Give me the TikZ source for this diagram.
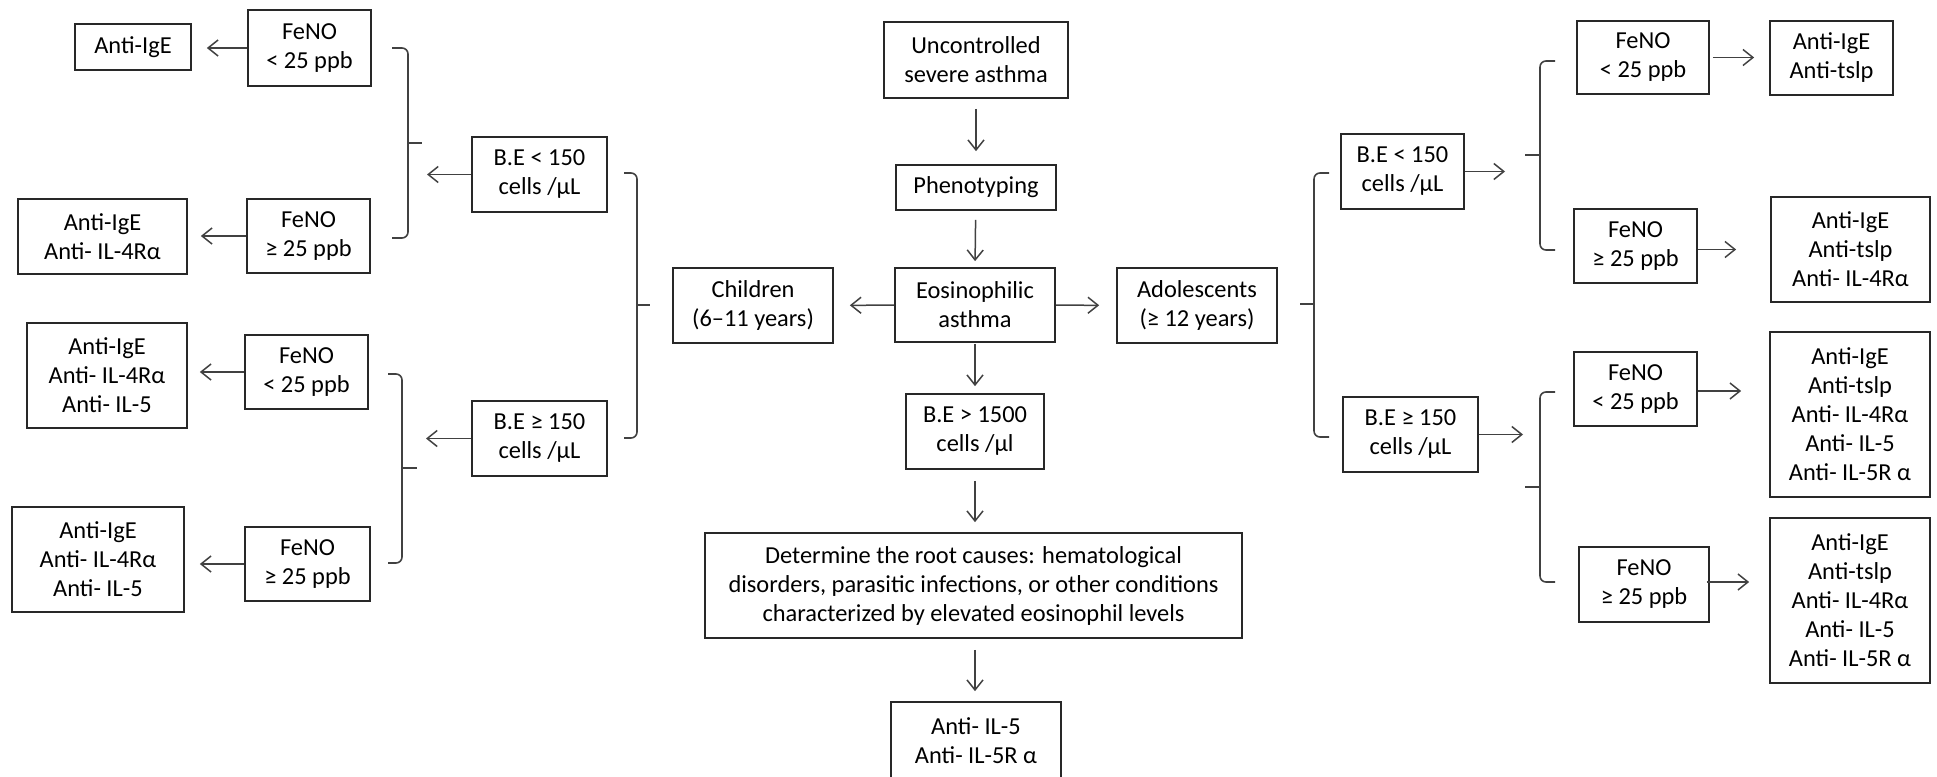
\documentclass[tikz,border=0pt]{standalone}
\usepackage{fontspec}
\setmainfont{Carlito}
\usepackage{tikz}
\usetikzlibrary{arrows.meta}
\definecolor{line1}{RGB}{40,40,40}
\definecolor{arrow1}{RGB}{65,65,65}

\begin{document}
\begin{tikzpicture}[x=0.5pt, y=-0.5pt,
  box/.style={draw=line1, line width=0.85pt, align=center, inner sep=0pt, font=\fontsize{12.2}{14.5}\selectfont},
  arr/.style={draw=arrow1, line width=0.75pt, -{Straight Barb[length=5pt,width=8pt]}},
  brc/.style={draw=arrow1, line width=0.8pt, rounded corners=3pt}]
\clip (0,0) rectangle (1937,776);

% Center
\node[box, minimum width=92pt, minimum height=38pt] (unc) at (976,60) {Uncontrolled\\severe asthma};
\node[box, minimum width=80pt, minimum height=22.5pt] (phe) at (976,187.5) {Phenotyping};
\node[box, minimum width=80pt, minimum height=37pt] (eos) at (975,305) {Eosinophilic\\asthma};
\node[box, minimum width=80pt, minimum height=37.5pt] (chi) at (753,305.5) {Children\\(6–11 years)};
\node[box, minimum width=80pt, minimum height=37.5pt] (ado) at (1197,305.5) {Adolescents\\(≥ 12 years)};
\node[box, minimum width=69pt, minimum height=37.5pt] (be) at (975,431.5) {B.E > 1500\\cells /µl};
\node[box, minimum width=268.5pt, minimum height=52.5pt] (det) at (973.5,585.5) {Determine the root causes: hematological\\disorders, parasitic infections, or other conditions\\characterized by elevated eosinophil levels};
\node[box, minimum width=85pt, minimum height=39pt] (il5) at (976,741) {Anti- IL-5\\Anti- IL-5R α};

% Children side
\node[box, minimum width=67.5pt, minimum height=37.5pt] (bl1) at (539.5,174.5) {B.E < 150\\cells /µL};
\node[box, minimum width=67.5pt, minimum height=37.5pt] (bl2) at (539.5,438.5) {B.E ≥ 150\\cells /µL};
\node[box, minimum width=61.5pt, minimum height=38pt] (fl1) at (309.5,48) {FeNO\\< 25 ppb};
\node[box, minimum width=61.5pt, minimum height=37pt] (fl2) at (308.5,236) {FeNO\\≥ 25 ppb};
\node[box, minimum width=61.5pt, minimum height=37pt] (fl3) at (306.5,372) {FeNO\\< 25 ppb};
\node[box, minimum width=62.5pt, minimum height=37pt] (fl4) at (307.5,564) {FeNO\\≥ 25 ppb};
\node[box, minimum width=58pt, minimum height=23pt] (al1) at (133,47) {Anti-IgE};
\node[box, minimum width=84.5pt, minimum height=37.5pt] (al2) at (102.5,236.5) {Anti-IgE\\Anti- IL-4Rα};
\node[box, minimum width=80pt, minimum height=52.5pt] (al3) at (107,375.5) {Anti-IgE\\Anti- IL-4Rα\\Anti- IL-5};
\node[box, minimum width=86pt, minimum height=52.5pt] (al4) at (98,559.5) {Anti-IgE\\Anti- IL-4Rα\\Anti- IL-5};

% Adolescents side
\node[box, minimum width=61.5pt, minimum height=37.5pt] (br1) at (1402.5,171.5) {B.E < 150\\cells /µL};
\node[box, minimum width=67.5pt, minimum height=37.5pt] (br2) at (1410.5,434.5) {B.E ≥ 150\\cells /µL};
\node[box, minimum width=66pt, minimum height=36.5pt] (fr1) at (1643,57.5) {FeNO\\< 25 ppb};
\node[box, minimum width=61.5pt, minimum height=37pt] (fr2) at (1635.5,246) {FeNO\\≥ 25 ppb};
\node[box, minimum width=61.5pt, minimum height=37pt] (fr3) at (1635.5,389) {FeNO\\< 25 ppb};
\node[box, minimum width=65pt, minimum height=37.5pt] (fr4) at (1644,584.5) {FeNO\\≥ 25 ppb};
\node[box, minimum width=61.5pt, minimum height=37pt] (ar1) at (1831.5,58) {Anti-IgE\\Anti-tslp};
\node[box, minimum width=79.5pt, minimum height=52.5pt] (ar2) at (1850.5,249.5) {Anti-IgE\\Anti-tslp\\Anti- IL-4Rα};
\node[box, minimum width=80pt, minimum height=82.5pt] (ar3) at (1850,414.5) {Anti-IgE\\Anti-tslp\\Anti- IL-4Rα\\Anti- IL-5\\Anti- IL-5R α};
\node[box, minimum width=80pt, minimum height=82.5pt] (ar4) at (1850,600.5) {Anti-IgE\\Anti-tslp\\Anti- IL-4Rα\\Anti- IL-5\\Anti- IL-5R α};

%Braces
\coordinate (kl1) at (422,143);
\coordinate (kl2) at (417,468);
\coordinate (kl) at (650,305);
\coordinate (kr) at (1300,304);
\coordinate (kr1) at (1525,155);
\coordinate (kr2) at (1525,487);
\draw[brc] (392,48) -- (408,48) -- (408,238) -- (392,238);
\draw[brc] (408,143) -- (kl1);
\draw[brc] (388,374) -- (402,374) -- (402,563) -- (388,563);
\draw[brc] (402,468) -- (kl2);
\draw[brc] (624,173) -- (637,173) -- (637,438) -- (624,438);
\draw[brc] (637,305) -- (kl);
\draw[brc] (1329,173) -- (1314,173) -- (1314,437) -- (1329,437);
\draw[brc] (1314,304) -- (kr);
\draw[brc] (1555,61) -- (1540,61) -- (1540,250) -- (1555,250);
\draw[brc] (1540,155) -- (kr1);
\draw[brc] (1555,392) -- (1540,392) -- (1540,582) -- (1555,582);
\draw[brc] (1540,487) -- (kr2);

%Arrows
\draw[arr, shorten <=5pt, shorten >=6.5pt] (unc) -- (phe);
\draw[arr, shorten <=4.5pt, shorten >=3pt] (phe) -- (eos.north);
\draw[arr, shorten <=0.5pt, shorten >=3.5pt] (eos) -- (be);
\draw[arr, shorten <=5.5pt, shorten >=5pt] (be) -- (be |- det.north);
\draw[arr, shorten <=5.5pt, shorten >=5pt] (det.south -| be) -- (be |- il5.north);
\draw[arr, shorten >=8pt] (eos) -- (chi);
\draw[arr, shorten >=8.5pt] (eos) -- (ado);
\draw[arr, shorten >=2.5pt] (bl1) -- (kl1 |- bl1);
\draw[arr, shorten >=4.5pt] (bl2) -- (kl2 |- bl2);
\draw[arr, shorten >=7.5pt] (fl1) -- (al1.east |- fl1);
\draw[arr, shorten >=6.5pt] (fl2) -- (al2.east |- fl2);
\draw[arr, shorten >=6pt] (fl3) -- (al3.east |- fl3);
\draw[arr, shorten >=7.5pt] (fl4) -- (al4.east |- fl4);
\draw[arr, shorten >=10pt] (br1) -- (kr1 |- br1);
\draw[arr, shorten >=1pt] (br2) -- (kr2 |- br2);
\draw[arr, shorten <=1.5pt, shorten >=7.5pt] (fr1) -- (ar1.west |- fr1);
\draw[arr, shorten >=17pt] (fr2.east |- ar2) -- (ar2);
\draw[arr, shorten >=14pt] (fr3.east |- 0,391) -- (ar3.west |- 0,391);
\draw[arr, shorten <=-1.5pt, shorten >=10pt] (fr4.east |- 0,582) -- (ar4.west |- 0,582);
\end{tikzpicture}
\end{document}
